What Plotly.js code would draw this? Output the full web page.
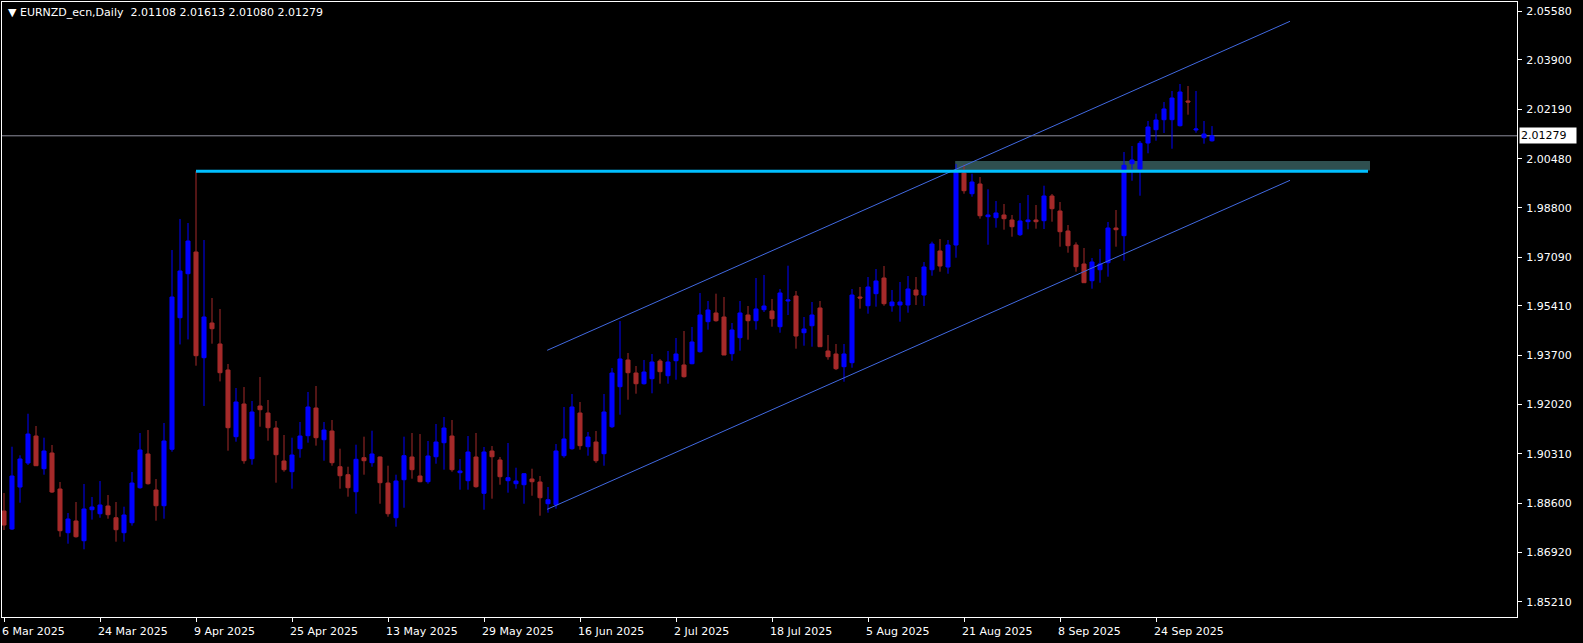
<!DOCTYPE html>
<html>
<head>
<meta charset="utf-8">
<script src="https://cdn.plot.ly/plotly-3.0.1.min.js"></script>
<style>
html,body{margin:0;padding:0;background:#000;}
#chart{width:1583px;height:643px;}
</style>
</head>
<body>
<div id="chart"></div>
<script>
// ---- data (bar index 0 = 6 Mar 2025, daily bars, weekdays) ----
const symbolName = "EURNZD_ecn,Daily";
const tickBars = [0, 12, 24, 36, 48, 60, 72, 84, 96, 108, 120, 132, 144];
const tickLabels = ["6 Mar 2025", "24 Mar 2025", "9 Apr 2025", "25 Apr 2025", "13 May 2025", "29 May 2025",
  "16 Jun 2025", "2 Jul 2025", "18 Jul 2025", "5 Aug 2025", "21 Aug 2025", "8 Sep 2025", "24 Sep 2025"];
const priceTicks = [1.85210, 1.86920, 1.88600, 1.90310, 1.92020, 1.93700, 1.95410, 1.97090, 1.98800, 2.00480, 2.02190, 2.03900, 2.05580];

const openP = [
1.88338,1.87718,1.89166,1.89994,1.90925,1.89798,1.90339,1.89097,1.87590,1.87994,
1.87314,1.88383,1.88245,1.88511,1.88107,1.87590,1.87935,1.89142,1.90305,1.89063,
1.88521,1.90467,1.95005,1.96523,1.97271,1.93626,1.94823,1.94099,1.93202,1.90902,
1.92029,1.90143,1.91960,1.91719,1.91201,1.90063,1.89695,1.90488,1.90936,1.91891,
1.90798,1.91098,1.89866,1.89591,1.89004,1.90177,1.90005,1.90201,1.89304,1.88107,
1.89418,1.90201,1.89546,1.89349,1.90211,1.90694,1.90925,1.89660,1.89384,1.90201,
1.88949,1.90408,1.90098,1.89384,1.89280,1.89245,1.89442,1.89339,1.88590,1.88556,
1.90246,1.90488,1.91719,1.90557,1.90718,1.90315,1.91246,1.92626,1.93547,1.93098,
1.92729,1.92902,1.93512,1.93005,1.93522,1.93375,1.93419,1.93833,1.94868,1.95168,
1.95030,1.93764,1.94316,1.95099,1.94902,1.95282,1.95237,1.94695,1.95582,1.95754,
1.94488,1.94729,1.95341,1.93857,1.93754,1.93316,1.93454,1.95720,1.95419,1.95834,
1.96375,1.95419,1.95444,1.95444,1.95961,1.95788,1.96661,1.97306,1.96754,1.97513,
1.99996,1.99282,1.99617,1.98489,1.98455,1.98548,1.98375,1.97868,1.98317,1.98375,
1.98351,1.99203,1.98686,1.97996,1.97513,1.96858,1.96282,1.96661,1.96903,1.98099,
1.97834,2.00317,2.00134,2.01031,2.01490,2.01835,2.01835,2.01628,2.02480,2.01479,
2.01214,2.01108];
const highP = [
1.88959,1.90556,1.90260,1.91694,1.91270,1.90867,1.90615,1.89339,1.88270,1.88649,
1.89270,1.88821,1.89373,1.88890,1.88649,1.88487,1.89684,1.91029,1.91132,1.89442,
1.91374,1.97340,1.98412,1.98271,2.00055,1.97685,1.95685,1.95306,1.93409,1.92581,
1.92615,1.92133,1.92960,1.92167,1.91443,1.90960,1.90867,1.91408,1.92443,1.92650,
1.91408,1.91477,1.90488,1.89866,1.90626,1.90902,1.91108,1.90220,1.89901,1.89591,
1.90902,1.91029,1.90994,1.90753,1.91339,1.91580,1.91477,1.90132,1.90925,1.91029,
1.90546,1.90580,1.90201,1.90684,1.89832,1.89640,1.89797,1.89546,1.89166,1.90649,
1.91926,1.92374,1.92098,1.91063,1.91098,1.92374,1.93271,1.94892,1.93788,1.93340,
1.93547,1.93754,1.93581,1.93857,1.94306,1.94547,1.94685,1.95858,1.95582,1.95834,
1.95720,1.94823,1.95582,1.95409,1.96375,1.96478,1.95651,1.95996,1.96799,1.95927,
1.95030,1.95547,1.95582,1.94409,1.94099,1.94099,1.95996,1.96065,1.96409,1.96685,
1.96789,1.95961,1.96237,1.96444,1.96409,1.96927,1.97627,1.97720,1.97685,2.00307,
2.00283,1.99972,1.99858,1.99434,1.99030,1.98927,1.98548,1.98961,1.99237,1.98893,
1.99558,1.99272,1.98996,1.98203,1.97606,1.97410,1.97065,1.97375,1.98306,1.98720,
2.00721,2.00927,2.01100,2.01790,2.02041,2.02445,2.02824,2.03066,2.02997,2.02824,
2.01790,2.01613];
const lowP = [
1.87683,1.87683,1.88625,1.89925,1.89891,1.89591,1.88960,1.87452,1.87211,1.87420,
1.87018,1.88042,1.88107,1.88073,1.87280,1.87280,1.87835,1.89108,1.89250,1.88004,
1.88073,1.90385,1.94083,1.94256,1.93350,1.91962,1.94109,1.92808,1.90419,1.90729,
1.89970,1.89936,1.91246,1.90764,1.89315,1.89695,1.89108,1.90177,1.90695,1.90592,
1.90074,1.89901,1.89108,1.88832,1.88245,1.89591,1.89866,1.88590,1.88142,1.87797,
1.88452,1.89453,1.89330,1.89280,1.89970,1.89764,1.89695,1.89073,1.89073,1.89142,
1.88383,1.88763,1.89245,1.88970,1.89108,1.88590,1.88866,1.88176,1.88280,1.88418,
1.90177,1.90453,1.90453,1.90246,1.90000,1.89901,1.91201,1.91660,1.92177,1.92385,
1.92700,1.92398,1.92729,1.92729,1.92867,1.92940,1.93400,1.93800,1.94592,1.94868,
1.93719,1.93523,1.93868,1.94247,1.94592,1.95202,1.94695,1.94488,1.95099,1.93937,
1.94040,1.94006,1.94000,1.93557,1.93200,1.92798,1.93281,1.95316,1.95144,1.95385,
1.95419,1.95213,1.94868,1.95178,1.95444,1.95409,1.96454,1.96592,1.96523,1.97075,
1.99282,1.99179,1.98420,1.97523,1.98110,1.98041,1.97799,1.97823,1.98054,1.98075,
1.98065,1.98317,1.97454,1.97247,1.96592,1.96202,1.96006,1.96213,1.96420,1.97454,
1.96972,1.99731,1.99213,2.00676,2.01110,2.01376,2.00834,2.01600,2.02007,2.01386,
2.01007,2.01080];
const closeP = [
1.87856,1.89546,1.90132,1.90994,1.89901,1.90408,1.88994,1.87659,1.88063,1.87452,
1.88408,1.88477,1.88546,1.88211,1.87694,1.88201,1.89304,1.90443,1.89280,1.88521,
1.90753,1.95719,1.96616,1.97651,1.93695,1.95030,1.94626,1.93109,1.91212,1.92098,
1.90074,1.91753,1.91833,1.91212,1.90281,1.89764,1.90270,1.90925,1.91926,1.90867,
1.91132,1.90005,1.89556,1.89142,1.90122,1.90074,1.90305,1.89315,1.88245,1.89373,
1.90246,1.89764,1.89349,1.90236,1.90718,1.91201,1.89764,1.89718,1.90374,1.89177,
1.90374,1.90211,1.89522,1.89487,1.89373,1.89625,1.89349,1.88797,1.88728,1.90408,
1.90822,1.91926,1.90592,1.90891,1.90074,1.91753,1.93098,1.93581,1.93109,1.92729,
1.93132,1.93478,1.93144,1.93478,1.93754,1.92971,1.94168,1.95099,1.95271,1.94902,
1.93719,1.94582,1.95168,1.94902,1.95306,1.95409,1.94971,1.95858,1.95617,1.94374,
1.94616,1.95099,1.94006,1.93661,1.93247,1.93754,1.95788,1.95685,1.96065,1.96271,
1.95489,1.95547,1.95547,1.95996,1.95788,1.96754,1.97547,1.96789,1.97513,2.00020,
1.99386,1.99686,1.98523,1.98548,1.98617,1.98420,1.98144,1.98341,1.98375,1.98317,
1.99203,1.98765,1.97972,1.97489,1.96765,1.96213,1.96927,1.96858,1.98099,1.98041,
2.00262,2.00445,2.01021,2.01583,2.01824,2.02204,2.02583,2.02790,2.02445,2.01514,
2.01341,2.01279];

// drawn objects
const channelBars = [67.9, 160.75];
const channelUpper = [1.93881, 2.05228];
const channelLower = [1.88397, 1.99744];
const levelBars = [24, 170.5];
const levelPrice = 2.00055;
const zoneBars = [118.9, 170.75];
const zonePrices = [2.00082, 2.00410];

// ---- drawing ----
const n = closeP.length;
const xs = closeP.map((_, i) => i);
const last = n - 1;
const fmt = v => v.toFixed(5);
const FONT = "DejaVu Sans, Verdana, sans-serif";

const traces = [
  {
    type: "candlestick", x: xs, open: openP, high: highP, low: lowP, close: closeP,
    increasing: {line: {color: "#0000FF", width: 1}, fillcolor: "#0000FF"},
    decreasing: {line: {color: "#A52A2A", width: 1}, fillcolor: "#A52A2A"},
    whiskerwidth: 0, hoverinfo: "skip", showlegend: false
  },
  {type: "scatter", mode: "lines", x: channelBars, y: channelUpper, line: {color: "#4169E1", width: 1}, hoverinfo: "skip", showlegend: false},
  {type: "scatter", mode: "lines", x: channelBars, y: channelLower, line: {color: "#4169E1", width: 1}, hoverinfo: "skip", showlegend: false}
];

const layout = {
  width: 1583, height: 643,
  paper_bgcolor: "#000000", plot_bgcolor: "#000000",
  margin: {l: 2, r: 66, t: 2, b: 26, pad: 0},
  showlegend: false,
  boxgap: 0.3, boxgroupgap: 0.28,
  font: {family: FONT, size: 11, color: "#FFFFFF"},
  xaxis: {
    type: "linear", range: [-0.25, 189.125], showgrid: false, zeroline: false,
    rangeslider: {visible: false},
    showline: true, linecolor: "#FFFFFF", linewidth: 1, mirror: true,
    ticks: "outside", ticklen: 4, tickcolor: "#FFFFFF", tickwidth: 1,
    tickmode: "array", tickvals: tickBars, ticktext: tickLabels,
    ticklabelposition: "outside right", ticklabelshift: -3, ticklabelstandoff: 4,
    tickfont: {family: FONT, size: 11, color: "#FFFFFF"},
    fixedrange: true
  },
  yaxis: {
    range: [1.84683, 2.05894], side: "right", showgrid: false, zeroline: false,
    showline: true, linecolor: "#FFFFFF", linewidth: 1, mirror: true,
    ticks: "outside", ticklen: 4, tickcolor: "#FFFFFF", tickwidth: 1,
    tickmode: "array", tickvals: priceTicks, ticktext: priceTicks.map(fmt),
    ticklabelstandoff: 2,
    tickfont: {family: FONT, size: 11, color: "#FFFFFF"},
    fixedrange: true
  },
  shapes: [
    {type: "rect", layer: "below", xref: "x", yref: "y", x0: zoneBars[0], x1: zoneBars[1], y0: zonePrices[0], y1: zonePrices[1],
     fillcolor: "#2F4F4F", line: {width: 0}},
    {type: "line", layer: "below", xref: "paper", yref: "y", x0: 0, x1: 1, y0: closeP[last], y1: closeP[last],
     line: {color: "#8E8E9C", width: 1}},
    {type: "line", layer: "above", xref: "x", yref: "y", x0: levelBars[0], x1: levelBars[1], y0: levelPrice, y1: levelPrice,
     line: {color: "#00BFFF", width: 3}}
  ],
  annotations: [
    {xref: "paper", yref: "paper", x: 0, y: 1, xanchor: "left", yanchor: "top", xshift: 4, yshift: -2,
     showarrow: false, align: "left",
     text: "\u25BC\u00a0" + symbolName + "\u00a0\u00a0" + [openP[last], highP[last], lowP[last], closeP[last]].map(fmt).join(" "),
     font: {family: FONT, size: 11, color: "#FFFFFF"}},
    {xref: "paper", yref: "y", x: 1, y: closeP[last], xanchor: "left", yanchor: "middle", xshift: 2,
     showarrow: false, text: fmt(closeP[last]), bgcolor: "#FFFFFF", borderpad: 1, width: 54, align: "left",
     font: {family: FONT, size: 11, color: "#000000"}}
  ]
};

Plotly.newPlot("chart", traces, layout, {displayModeBar: false, staticPlot: true});
</script>
</body>
</html>
